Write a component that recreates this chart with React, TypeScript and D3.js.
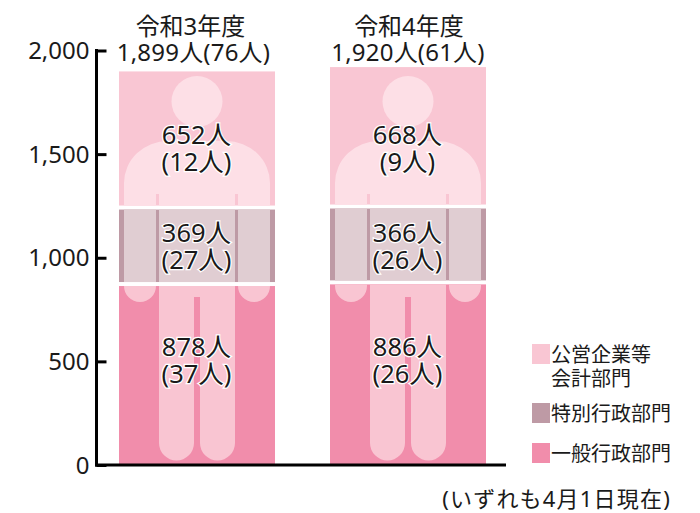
import { useEffect, useRef } from 'react';
import * as d3 from 'd3';

const years = ['令和3年度', '令和4年度'];
const totals = [1899, 1920];
const totalNotes = [76, 61];

const segmentNames = ['一般行政部門', '特別行政部門', '公営企業等'];
const general = [878, 886];
const special = [369, 366];
const enterprise = [652, 668];
const generalNotes = [37, 26];
const specialNotes = [27, 26];
const enterpriseNotes = [12, 9];

const yTicks = [0, 500, 1000, 1500, 2000];

const SEGMENT_COLORS = ['#f18dab', '#be9aa5', '#f9c6d3'];
const FIGURE_COLORS = ['#f9c5d2', '#e0cdd2', '#fddfe6'];
const LABEL_ROWS = [345.5, 231.5, 133.5];
const TITLE_SHIFT = [-6.5, 1];
const TOTAL_SHIFT = [-3.5, 0];
const FONT = '"Noto Sans", "Noto Sans CJK JP", sans-serif';

// person outline, x relative to the bar centre, y in page pixels
const BODY =
  'M-73 286 V183 A44 42 0 0 1 -29 141 H29 A44 42 0 0 1 73 183 V286 A16 16 0 0 1 41 286 V194 H38 V443 ' +
  'A17.5 17.5 0 0 1 3 443 V297 H-3 V443 A17.5 17.5 0 0 1 -38 443 V194 H-41 V286 A16 16 0 0 1 -73 286 Z';

export default function App() {
  const svgRef = useRef<SVGSVGElement>(null);

  useEffect(() => {
    if (!svgRef.current) return;
    const svg = d3.select(svgRef.current);
    svg.selectAll('*').remove();
    svg.attr('font-family', FONT).attr('fill', '#1a1a1a');

    const x = d3.scaleBand<string>().domain(years).range([119, 486]).paddingInner(55 / 211);
    const y = d3.scaleLinear().domain([0, 2000]).range([465, 50.5]);
    const bw = x.bandwidth();
    const defs = svg.append('defs');

    years.forEach((year, i) => {
      const x0 = x(year) ?? 0;
      const cx = x0 + bw / 2;
      const values = [general[i], special[i], enterprise[i]];
      const notes = [generalNotes[i], specialNotes[i], enterpriseNotes[i]];
      const cumulative = d3.cumsum(values);

      values.forEach((v, s) => {
        // 4px white gap between segments
        const y0 = s === values.length - 1 ? y(totals[i]) : y(cumulative[s]) + 3;
        const y1 = s === 0 ? y(0) - 1 : y(cumulative[s - 1]) - 1;
        const clipId = `seg-${i}-${s}`;

        defs.append('clipPath').attr('id', clipId)
          .append('rect').attr('x', x0).attr('y', y0).attr('width', bw).attr('height', y1 - y0);

        svg.append('rect')
          .attr('x', x0).attr('y', y0).attr('width', bw).attr('height', y1 - y0)
          .attr('fill', SEGMENT_COLORS[s]);

        const g = svg.append('g').attr('clip-path', `url(#${clipId})`);
        g.append('circle').attr('cx', cx).attr('cy', 101.5).attr('r', 25.5).attr('fill', FIGURE_COLORS[s]);
        g.append('path').attr('transform', `translate(${cx},0)`).attr('d', BODY).attr('fill', FIGURE_COLORS[s]);
      });

      values.forEach((v, s) => {
        const label = svg.append('g')
          .attr('text-anchor', 'middle')
          .attr('font-size', 25.5)
          .attr('stroke', '#fff')
          .attr('stroke-width', 2.5)
          .attr('paint-order', 'stroke')
          .attr('dominant-baseline', 'central');
        label.append('text').attr('x', cx - 0.5).attr('y', LABEL_ROWS[s]).text(`${d3.format(',')(v)}人`);
        label.append('text').attr('x', cx - 0.5).attr('y', LABEL_ROWS[s] + 27).text(`(${notes[s]}人)`);
      });

      const head = svg.append('g')
        .attr('text-anchor', 'middle')
        .attr('font-size', 24)
        .attr('dominant-baseline', 'central');
      head.append('text').attr('x', cx + TITLE_SHIFT[i]).attr('y', 25).text(year);
      head.append('text').attr('x', cx + TOTAL_SHIFT[i]).attr('y', 51).attr('letter-spacing', 0.2).text(`${d3.format(',')(totals[i])}人(${totalNotes[i]}人)`);
    });

    const axis = svg.append('g')
      .attr('transform', 'translate(96.5,0)')
      .call(d3.axisLeft(y).tickValues(yTicks).tickSize(-10).tickPadding(7).tickFormat((d) => d3.format(',')(Number(d))));
    axis.select('.domain').remove();
    axis.selectAll('.tick line').attr('stroke', '#000').attr('stroke-width', 3);
    axis.selectAll('.tick text')
      .attr('fill', '#1a1a1a')
      .attr('font-size', 24)
      .attr('font-family', FONT)
      .attr('x', -7)
      .attr('dy', '0.34em');
    svg.append('line').attr('x1', 96.5).attr('x2', 96.5).attr('y1', y(2000) - 1.5).attr('y2', y(0) + 1.5)
      .attr('stroke', '#000').attr('stroke-width', 3);
    svg.append('line').attr('x1', 95).attr('x2', 506).attr('y1', y(0)).attr('y2', y(0))
      .attr('stroke', '#000').attr('stroke-width', 3);

    // legend
    const legend = [
      { color: SEGMENT_COLORS[2], rows: [segmentNames[2], '会計部門'], top: 344 },
      { color: SEGMENT_COLORS[1], rows: [segmentNames[1]], top: 403 },
      { color: SEGMENT_COLORS[0], rows: [segmentNames[0]], top: 443 },
    ];
    legend.forEach((item) => {
      svg.append('rect').attr('x', 532).attr('y', item.top).attr('width', 18).attr('height', 20).attr('fill', item.color);
      item.rows.forEach((row, r) => {
        svg.append('text')
          .attr('x', 551).attr('y', item.top + 10 + r * 24)
          .attr('font-size', 20)
          .attr('dominant-baseline', 'central')
          .text(row);
      });
    });

    svg.append('text')
      .attr('x', 671).attr('y', 498)
      .attr('text-anchor', 'end')
      .attr('font-size', 22)
      .attr('letter-spacing', 1.2)
      .attr('dominant-baseline', 'central')
      .text('(いずれも4月1日現在)');
  }, []);

  return <svg ref={svgRef} width={700} height={513} style={{ position: 'absolute', left: 0, top: 0 }} />;
}
